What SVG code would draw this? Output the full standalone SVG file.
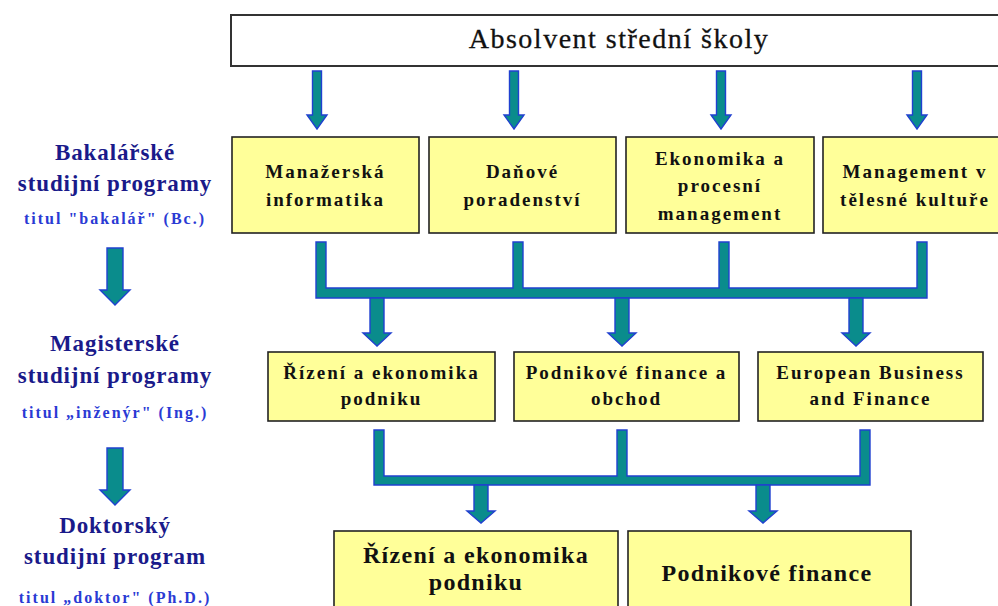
<svg xmlns="http://www.w3.org/2000/svg" width="998" height="606" viewBox="0 0 998 606">
<defs>
<style>
.box{fill:#ffff99;stroke:#222;stroke-width:1.6}
.conn{fill:#0a8c8c;stroke:#2040d0;stroke-width:1.4;stroke-linejoin:miter}
text{font-family:'Liberation Serif','Times New Roman',serif}
.bt{font-weight:bold;font-size:19px;fill:#111;text-anchor:middle;letter-spacing:2px}
.bt2{font-weight:bold;font-size:24px;fill:#111;text-anchor:middle;letter-spacing:1.3px}
.lt{font-weight:bold;font-size:23px;fill:#1a1a8a;text-anchor:middle;letter-spacing:0.9px}
.st{font-weight:bold;font-size:16px;fill:#2a3ad4;text-anchor:middle;letter-spacing:2px}
.tt{font-size:28px;fill:#111;text-anchor:middle;letter-spacing:1.5px;stroke:#111;stroke-width:0.3}
</style>
</defs>

<g id="top">
<rect x="231" y="15" width="780" height="51" fill="#fff" stroke="#333" stroke-width="2"/>
<text class="tt" x="619" y="48">Absolvent střední školy</text>
</g>

<g id="labels">
<g id="lbl-bc">
<text class="lt" x="115" y="160">Bakalářské</text>
<text class="lt" x="115" y="191">studijní programy</text>
<text class="st" x="115" y="224">titul "bakalář"  (Bc.)</text>
</g>
<g id="lbl-ing">
<text class="lt" x="115" y="351">Magisterské</text>
<text class="lt" x="115" y="383">studijní programy</text>
<text class="st" x="115" y="418">titul „inženýr"  (Ing.)</text>
</g>
<g id="lbl-phd">
<text class="lt" x="115" y="533">Doktorský</text>
<text class="lt" x="115" y="564">studijní program</text>
<text class="st" x="115" y="603">titul „doktor" (Ph.D.)</text>
</g>
</g>

<g id="b1">
<rect class="box" x="232" y="137" width="187" height="96"/>
<text class="bt" x="325.5" y="178">Manažerská</text>
<text class="bt" x="325.5" y="206">informatika</text>
</g>
<g id="b2">
<rect class="box" x="429" y="137" width="187" height="96"/>
<text class="bt" x="522.5" y="178">Daňové</text>
<text class="bt" x="522.5" y="206">poradenství</text>
</g>
<g id="b3">
<rect class="box" x="626" y="137" width="188" height="96"/>
<text class="bt" x="720" y="165">Ekonomika a</text>
<text class="bt" x="720" y="192">procesní</text>
<text class="bt" x="720" y="220">management</text>
</g>
<g id="b4">
<rect class="box" x="823" y="137" width="190" height="96"/>
<text class="bt" x="915" y="178">Management v</text>
<text class="bt" x="915" y="206">tělesné kultuře</text>
</g>

<g id="m1">
<rect class="box" x="268" y="352" width="227" height="69"/>
<text class="bt" x="381.5" y="379">Řízení a ekonomika</text>
<text class="bt" x="381.5" y="405">podniku</text>
</g>
<g id="m2">
<rect class="box" x="514" y="352" width="225" height="69"/>
<text class="bt" x="626.5" y="379">Podnikové finance a</text>
<text class="bt" x="626.5" y="405">obchod</text>
</g>
<g id="m3">
<rect class="box" x="758" y="352" width="225" height="69"/>
<text class="bt" x="870.5" y="379">European Business</text>
<text class="bt" x="870.5" y="405">and Finance</text>
</g>

<g id="d1">
<rect class="box" x="334" y="531" width="284" height="85"/>
<text class="bt2" x="476" y="563">Řízení a ekonomika</text>
<text class="bt2" x="476" y="590">podniku</text>
</g>
<g id="d2">
<rect class="box" x="628" y="531" width="283" height="85"/>
<text class="bt2" x="767" y="581">Podnikové finance</text>
</g>

<g id="connectors">
<path class="conn" d="M312.5,71 H321.5 V115 H327 L317,129 L307,115 H312.5 Z"/>
<path class="conn" d="M509.5,71 H518.5 V115 H524 L514,129 L504,115 H509.5 Z"/>
<path class="conn" d="M716.5,71 H725.5 V115 H731 L721,129 L711,115 H716.5 Z"/>
<path class="conn" d="M912.5,71 H921.5 V115 H927 L917,129 L907,115 H912.5 Z"/>
<path class="conn" d="M316,242 H326 V288 H513 V242 H523 V288 H719 V242 H729 V288 H917 V242 H927 V298 H316 Z"/>
<path class="conn" d="M370,298 H384 V333 H391 L377,346 L363,333 H370 Z"/>
<path class="conn" d="M615,298 H629 V333 H636 L622,346 L608,333 H615 Z"/>
<path class="conn" d="M849,298 H863 V333 H870 L856,346 L842,333 H849 Z"/>
<path class="conn" d="M374,430 H384 V476 H617 V430 H627 V476 H860 V430 H870 V485 H374 Z"/>
<path class="conn" d="M474,485 H488 V511 H495 L481,523 L467,511 H474 Z"/>
<path class="conn" d="M756,485 H770 V511 H777 L763,523 L749,511 H756 Z"/>
<path class="conn" d="M107,248 H123 V290 H130 L115,305 L100,290 H107 Z"/>
<path class="conn" d="M107,448 H123 V490 H130 L115,505 L100,490 H107 Z"/>
</g>
</svg>
